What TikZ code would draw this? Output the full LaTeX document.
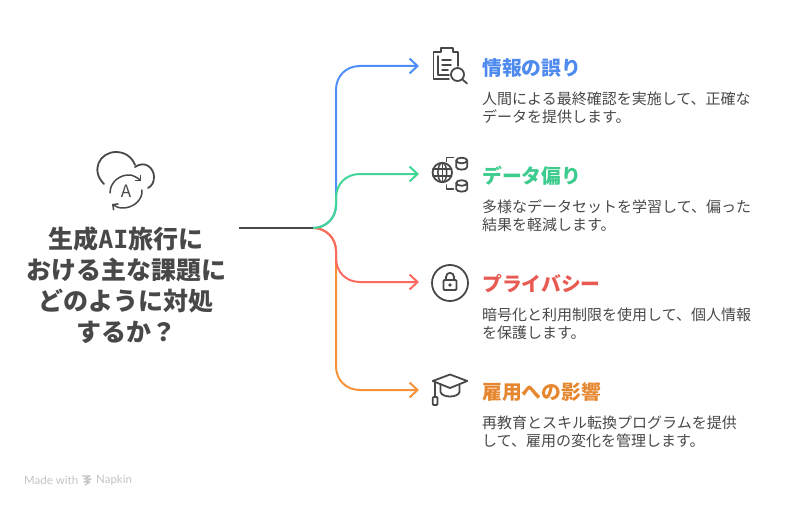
\documentclass[tikz,border=0pt]{standalone}
\usepackage{fontspec}
\usepackage{xcolor}
\usetikzlibrary{arrows.meta}
\setmainfont{Noto Sans CJK JP}
\newfontfamily\footfont{Lato}
\newfontfamily\slabfont{DejaVu Sans Mono}
\definecolor{napkinink}{HTML}{484848}
\definecolor{napkinfoot}{HTML}{C4C4C4}
\definecolor{linkblue}{HTML}{4F8FF7}
\definecolor{linkgreen}{HTML}{41D695}
\definecolor{linkred}{HTML}{FA6A60}
\definecolor{linkorange}{HTML}{F5923A}
\definecolor{headblue}{HTML}{4F8AEE}
\definecolor{headgreen}{HTML}{3ECB8E}
\definecolor{headred}{HTML}{E85A52}
\definecolor{headorange}{HTML}{E6862E}

\begin{document}
\begin{tikzpicture}[
  x=1pt,
  y=-1pt,
  every node/.style={inner sep=0pt, text=napkinink},
  titletext/.style={font=\fontsize{25}{31}\selectfont\bfseries, align=center},
  headtext/.style={font=\fontsize{19.8}{24}\selectfont\bfseries, anchor=west},
  bodytext/.style={font=\fontsize{15}{17.8}\selectfont, align=left, anchor=north west},
  iconline/.style={draw=napkinink, line width=1.8pt, line cap=round, line join=round},
  iconthin/.style={draw=napkinink, line width=1.5pt, line cap=round, line join=round},
  linkline/.style={line width=2pt, line cap=round, -{Straight Barb[length=8pt,width=15pt,line width=2pt]}}
]
  \useasboundingbox (0,0) rectangle (792,508);

  % left title
  \node[titletext] (topic) at (126,285) {生成{\slabfont AI}旅行に\\おける主な課題に\\どのように対処\\するか？};

  % connectors
  \coordinate (start) at (239,228);
  \coordinate (hub) at (313,228);
  \coordinate (endblue) at (419,66);
  \coordinate (endgreen) at (419,174);
  \coordinate (endred) at (419,282);
  \coordinate (endorange) at (419,390);

  \draw[linkblue, linkline] (hub) .. controls (326,228) and (336,218) .. (336,205)
    -- (336,90) .. controls (336,76) and (346,66) .. (360,66) -- (endblue);
  \draw[linkorange, linkline] (hub) .. controls (326,228) and (336,238) .. (336,251)
    -- (336,366) .. controls (336,380) and (346,390) .. (360,390) -- (endorange);
  \draw[linkred, linkline] (hub) .. controls (326,228) and (336,238) .. (336,251)
    -- (336,258) .. controls (336,272) and (346,282) .. (360,282) -- (endred);
  \draw[linkgreen, linkline] (hub) .. controls (326,228) and (336,218) .. (336,205)
    -- (336,198) .. controls (336,184) and (346,174) .. (360,174) -- (endgreen);
  \draw[napkinink, line width=2pt] (start) -- (hub);

  % cloud icon
  \draw[iconline] (104,184) .. controls (90,170) and (100,152) .. (116,152)
    .. controls (125,152) and (132,157) .. (135,165);
  \draw[iconline] (135,167) .. controls (145,160) and (154,168) .. (154,177)
    .. controls (154,182) and (152,186) .. (148,188);
  \draw[iconthin, -{Straight Barb[length=4pt,width=8pt]}] (110,193)
    .. controls (110,182) and (120,174) .. (131,175) .. controls (134,176) and (138,178) .. (141,181);
  \draw[iconthin, -{Straight Barb[length=4pt,width=8pt]}] (142,190)
    .. controls (143,200) and (133,208) .. (123,208) .. controls (119,208) and (116,207) .. (112,204);
  \node[font=\fontsize{17}{17}\selectfont] (cloudletter) at (126,191) {A};

  % clipboard icon
  \draw[iconline] (458,66) -- (458,52) -- (453,52) -- (453,48) -- (441,48) -- (441,52) -- (433.5,52)
    -- (433.5,79) -- (449,79);
  \draw[iconthin] (438,56) -- (438,75) -- (449,75);
  \draw[iconthin] (442,60) -- (451,60) (442,65) -- (451,65) (442,70) -- (448,70);
  \draw[iconline] (457.5,74.5) circle (6.5);
  \draw[iconline] (462.5,79.5) -- (467,83.5);

  % globe and cylinders icon
  \draw[iconline] (442.3,172.5) circle (9.7);
  \draw[iconthin] (442.3,172.5) ellipse (4.4 and 9.7);
  \draw[iconthin] (433,169) -- (451.6,169) (433,176) -- (451.6,176) (442.3,163) -- (442.3,182);
  \draw[iconline] (453.5,157.5) -- (446.5,157.5) -- (446.5,161.5);
  \draw[iconline] (446.5,185) -- (446.5,189) -- (453.5,189);
  \draw[iconline] (461.7,160.5) ellipse (5.5 and 2.8);
  \draw[iconline] (456.2,160.5) -- (456.2,167) .. controls (456.2,170.5) and (467.2,170.5) .. (467.2,167) -- (467.2,160.5);
  \draw[iconline] (461.7,183) ellipse (5.5 and 2.8);
  \draw[iconline] (456.2,183) -- (456.2,189) .. controls (456.2,192.5) and (467.2,192.5) .. (467.2,189) -- (467.2,183);

  % lock icon
  \draw[iconline] (450,283) circle (18);
  \draw[iconline, rounded corners=1pt] (443.5,280) rectangle (456.5,290);
  \draw[iconline] (446,280) -- (446,277) .. controls (446,271.5) and (454,271.5) .. (454,277) -- (454,280);
  \fill[napkinink] (450,285) circle (1.8);

  % cap icon
  \draw[iconline] (432.7,381) -- (450,374.5) -- (467.3,381) -- (450,388) -- cycle;
  \draw[iconline] (440.5,384.5) -- (440.5,392) .. controls (442,398) and (458,398) .. (459.5,392) -- (459.5,384.5);
  \draw[iconline] (435,382) -- (435,396);
  \draw[iconline, rounded corners=1pt] (432.7,397) rectangle (437.5,405);

  % item texts
  \node[headtext, text=headblue] (headone) at (482,68) {情報の誤り};
  \node[bodytext] (bodyone) at (482,92) {人間による最終確認を実施して、正確な\\データを提供します。};
  \node[headtext, text=headgreen] (headtwo) at (482,176) {データ偏り};
  \node[bodytext] (bodytwo) at (482,200) {多様なデータセットを学習して、偏った\\結果を軽減します。};
  \node[headtext, text=headred] (headthree) at (482,284) {プライバシー};
  \node[bodytext] (bodythree) at (482,308) {暗号化と利用制限を使用して、個人情報\\を保護します。};
  \node[headtext, text=headorange] (headfour) at (482,392) {雇用への影響};
  \node[bodytext] (bodyfour) at (482,416) {再教育とスキル転換プログラムを提供\\して、雇用の変化を管理します。};

  % footer
  \node[font=\footfont\fontsize{11.5}{12}\selectfont, text=napkinfoot, anchor=west] (madewith) at (24,480) {Made with};
  \draw[napkinfoot, line width=1.2pt, line join=round] (82,476) -- (90,476) -- (84,479) -- (91,479) -- (84,482) -- (90,482) -- (85,485);
  \node[font=\footfont\fontsize{11.5}{12}\selectfont, text=napkinfoot, anchor=west] (napkin) at (96,480) {Napkin};
\end{tikzpicture}
\end{document}
